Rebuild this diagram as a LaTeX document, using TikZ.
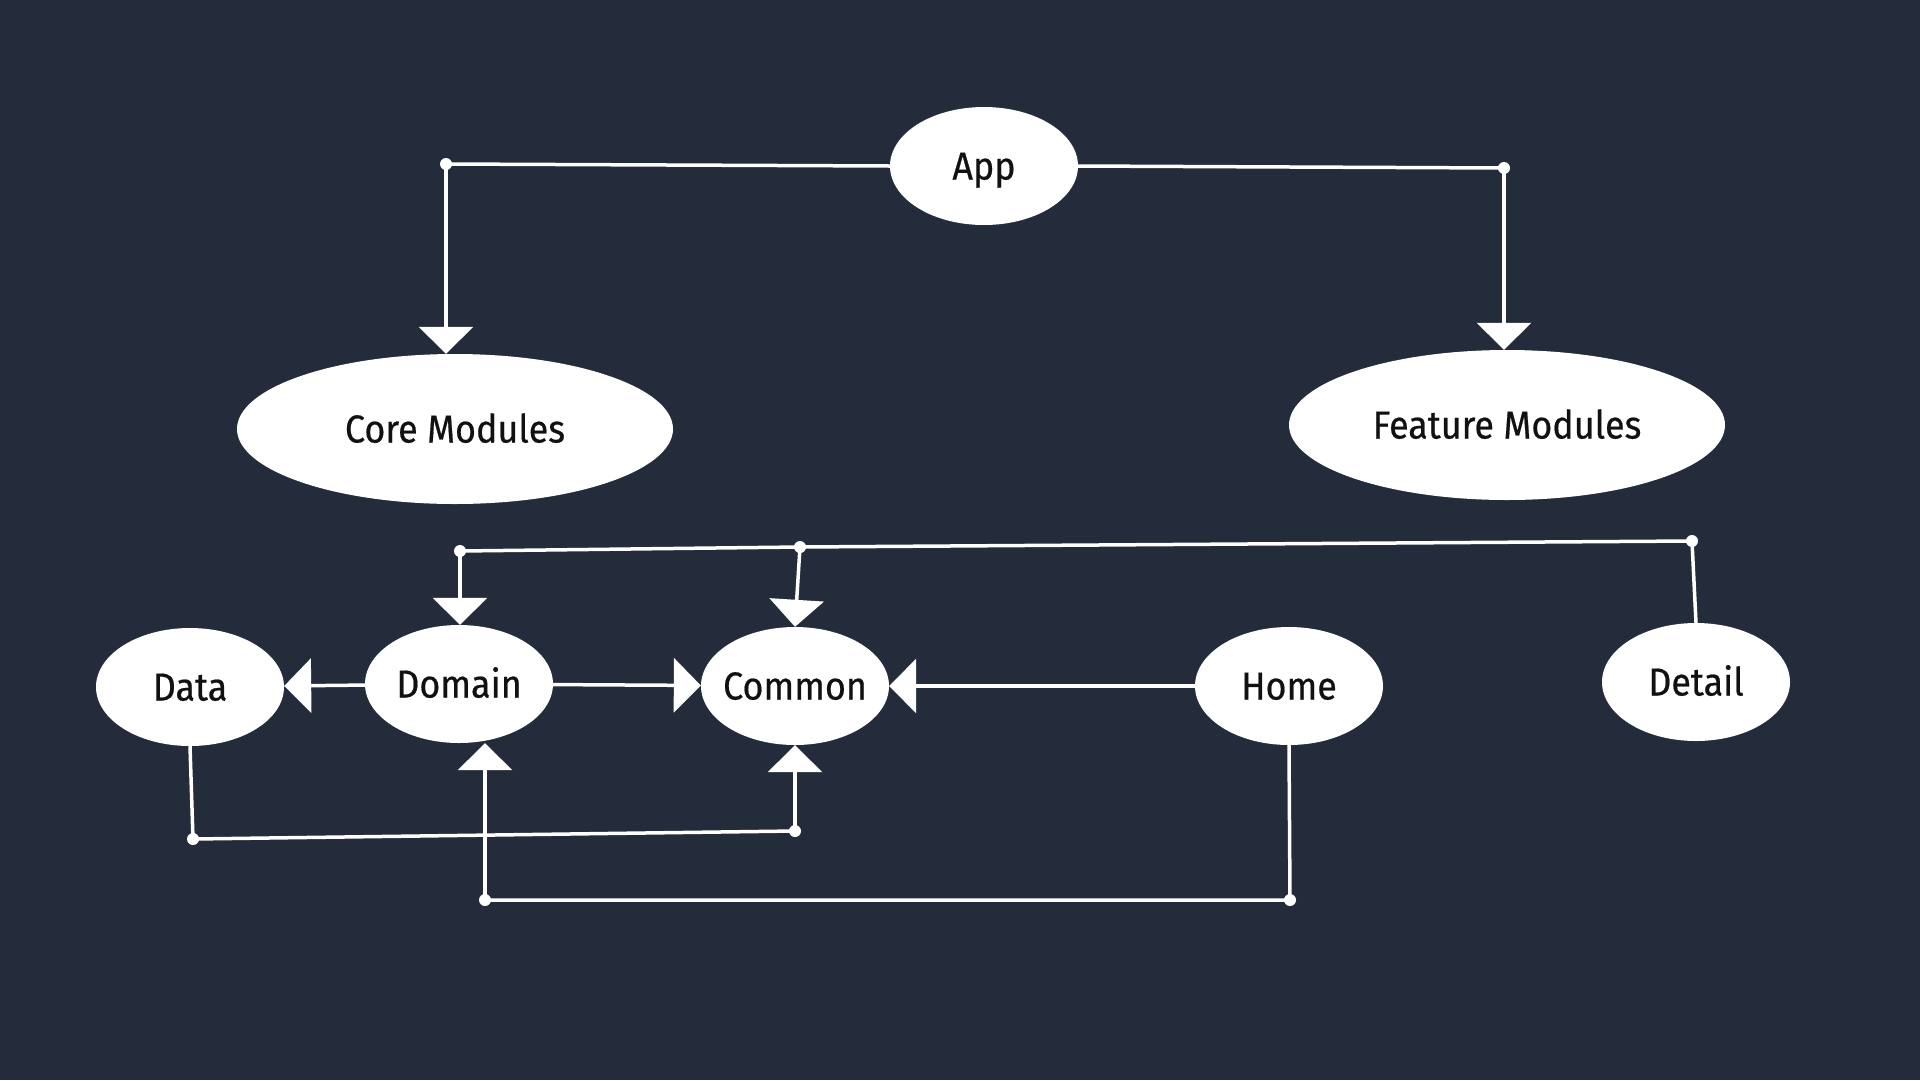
\documentclass[tikz,border=0pt]{standalone}
\usepackage{fontspec}
\setmainfont{Fira Sans}[FakeStretch=0.92,FakeBold=0.5]
\usepackage{tikz}
\usetikzlibrary{shapes.geometric,arrows.meta}
\definecolor{bgdark}{HTML}{242B3B}
\definecolor{inkdark}{HTML}{111111}
\tikzset{
  module/.style={ellipse, fill=white, inner ysep=0pt, inner xsep=-30pt, text=inkdark,
    text height=27pt, text depth=0pt, font=\fontsize{39}{42}\selectfont},
  small/.style={module, minimum width=188pt, minimum height=118pt},
  large/.style={module, minimum width=436pt, minimum height=150pt},
  junction/.style={circle, fill=white, inner sep=0pt, minimum size=12pt},
  wire/.style={draw=white, line width=3.5pt},
  arr/.style={wire, -{Triangle[width=54pt,length=27pt]}}
}
\begin{document}
\begin{tikzpicture}[x=1pt,y=-1pt]
\fill[bgdark] (0,0) rectangle (1920,1080);
\useasboundingbox (0,0) rectangle (1920,1080);
\node[small] (app) at (984,166) {App};
\node[large] (core) at (455,429) {Core Modules};
\node[large] (feature) at (1507,425) {Feature Modules};
\node[small] (data) at (190,687) {Data};
\node[small] (domain) at (459,684) {Domain};
\node[small] (common) at (795,686) {Common};
\node[small] (home) at (1289,686) {Home};
\node[small] (detail) at (1696,682) {Detail};
\node[junction] (jcore) at (446,164) {};
\node[junction] (jfeature) at (1504,168) {};
\node[junction] (jbusdom) at (460,551) {};
\node[junction] (jbuscom) at (800,547) {};
\node[junction] (jbusdet) at (1692,541) {};
\node[junction] (jdata) at (193,839) {};
\node[junction] (jcom) at (795,831) {};
\node[junction] (jhome) at (1290,900) {};
\node[junction] (jdom) at (485,900) {};
\draw[wire] (app.west) -- (jcore.center);
\draw[arr] (jcore.center) -- (jcore |- core.north);
\draw[wire] (app.east) -- (jfeature.center);
\draw[arr] (jfeature.center) -- (jfeature |- feature.north);
\draw[wire] (detail.north) -- (jbusdet.center) -- (jbuscom.center) -- (jbusdom.center);
\draw[arr] (jbusdom.center) -- (jbusdom |- domain.north);
\draw[arr] (jbuscom.center) -- (common.north);
\draw[arr] (domain) -- (data);
\draw[arr] (domain) -- (common);
\draw[arr] (home) -- (common);
\draw[wire] (data.south) -- (jdata.center) -- (jcom.center);
\draw[arr] (jcom.center) -- (common.south);
\draw[wire] (home.south) -- (jhome.center) -- (jdom.center);
\draw[arr] (jdom.center) -- (jdom |- domain.south);
\end{tikzpicture}
\end{document}
